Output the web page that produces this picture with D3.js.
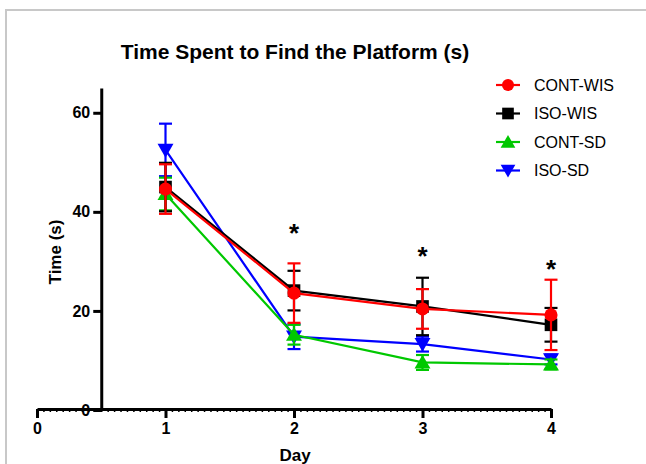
<!DOCTYPE html>
<html>
  <head>
    <script src="https://d3js.org/d3.v7.min.js"></script>
    <style>
      body { margin: 0; background: #fff; }
      svg text { font-family: "Liberation Sans", Arial, sans-serif; }
      .tick text { font-weight: bold; font-size: 16px; fill: #000; }
    </style>
  </head>
  <body>
    <div id="chart"></div>
    <script>
      // data
      const days = [1, 2, 3, 4];
      const series = ["CONT-WIS", "ISO-WIS", "CONT-SD", "ISO-SD"];
      const colors = ["#ff0000", "#000000", "#00c800", "#0000ff"];
      const contWis = [44.6, 23.6, 20.4, 19.2];
      const contWisErr = [5.0, 6.0, 4.0, 7.1];
      const isoWis = [45.0, 24.1, 20.9, 17.2];
      const isoWisErr = [4.9, 4.0, 5.8, 3.4];
      const contSd = [43.6, 15.2, 9.6, 9.2];
      const contSdErr = [3.3, 2.0, 1.5, 1.0];
      const isoSd = [52.5, 14.8, 13.3, 10.2];
      const isoSdErr = [5.3, 2.5, 1.5, 1.0];
      const starDays = [2, 3, 4];
      const starLevels = [37.0, 32.3, 29.6];
      const xTicks = [0, 1, 2, 3, 4];
      const yTicks = [0, 20, 40, 60];

      const W = 646, H = 464;
      const svg = d3.select("#chart").append("svg")
        .attr("width", W).attr("height", H);

      // frame of the original figure
      svg.append("path")
        .attr("d", `M6,${H} V10 H${W}`)
        .attr("fill", "none")
        .attr("stroke", "#c8c8c8")
        .attr("stroke-width", 2);

      const x = d3.scaleLinear().domain([0, 4]).range([37, 551]);
      const y = d3.scaleLinear().domain([0, 65]).range([410, 88]);

      // title
      svg.append("text")
        .attr("x", 295).attr("y", 59)
        .attr("text-anchor", "middle")
        .style("font-weight", "bold").style("font-size", "21px")
        .text("Time Spent to Find the Platform (s)");

      // x axis, minor ticks first
      svg.append("g")
        .attr("transform", "translate(0,409)")
        .call(d3.axisBottom(x).tickValues(d3.range(0, 4.001, 0.05)).tickSize(3).tickFormat(""))
        .call(g => g.select(".domain").remove())
        .call(g => g.selectAll("line").attr("stroke-width", 1.5));

      const xAxis = svg.append("g")
        .attr("transform", "translate(0,409)")
        .call(d3.axisBottom(x).tickValues(xTicks).tickFormat(d3.format("d"))
          .tickSize(9).tickSizeOuter(0).tickPadding(5));
      xAxis.select(".domain").attr("stroke-width", 3);
      xAxis.selectAll("line").attr("stroke-width", 3);

      // y axis sits at x = 0.5
      const yAxis = svg.append("g")
        .attr("transform", `translate(${x(0.5)},0)`)
        .call(d3.axisLeft(y).tickValues(yTicks).tickFormat(d3.format("d"))
          .tickSize(8).tickSizeOuter(0).tickPadding(3));
      yAxis.select(".domain").attr("stroke-width", 3);
      yAxis.selectAll("line").attr("stroke-width", 3);

      // axis titles
      svg.append("text")
        .attr("x", 295).attr("y", 461)
        .attr("text-anchor", "middle")
        .style("font-weight", "bold").style("font-size", "17px")
        .text("Day");

      svg.append("text")
        .attr("transform", "translate(61,252) rotate(-90)")
        .attr("text-anchor", "middle")
        .style("font-weight", "bold").style("font-size", "17px")
        .text("Time (s)");

      const values = [contWis, isoWis, contSd, isoSd];
      const errs = [contWisErr, isoWisErr, contSdErr, isoSdErr];
      const symbols = [
        { type: d3.symbolCircle, size: 135, rot: 0 },
        { type: d3.symbolSquare, size: 160, rot: 0 },
        { type: d3.symbolTriangle, size: 110, rot: 0 },
        { type: d3.symbolTriangle, size: 110, rot: 180 }
      ];

      const line = d3.line().x(d => x(d.day)).y(d => y(d.v));

      // draw last series first so red ends on top
      [3, 2, 1, 0].forEach(i => {
        const pts = days.map((d, j) => ({ day: d, v: values[i][j], e: errs[i][j] }));
        const g = svg.append("g");
        g.append("path")
          .datum(pts)
          .attr("d", line)
          .attr("fill", "none")
          .attr("stroke", colors[i])
          .attr("stroke-width", 2.2);

        const eb = g.selectAll(".eb").data(pts).enter().append("g");
        eb.append("line")
          .attr("x1", d => x(d.day)).attr("x2", d => x(d.day))
          .attr("y1", d => y(d.v - d.e)).attr("y2", d => y(d.v + d.e));
        eb.append("line")
          .attr("x1", d => x(d.day) - 6.5).attr("x2", d => x(d.day) + 6.5)
          .attr("y1", d => y(d.v + d.e)).attr("y2", d => y(d.v + d.e));
        eb.append("line")
          .attr("x1", d => x(d.day) - 6.5).attr("x2", d => x(d.day) + 6.5)
          .attr("y1", d => y(d.v - d.e)).attr("y2", d => y(d.v - d.e));
        eb.selectAll("line").attr("stroke", colors[i]).attr("stroke-width", 2.2);

        g.selectAll(".mk").data(pts).enter().append("path")
          .attr("d", d3.symbol().type(symbols[i].type).size(symbols[i].size))
          .attr("transform", d => `translate(${x(d.day)},${y(d.v) + (i >= 2 ? (symbols[i].rot ? -1.5 : 1.5) : 0)}) rotate(${symbols[i].rot})`)
          .attr("fill", colors[i]);
      });

      // significance marks
      svg.selectAll(".star").data(starDays).enter().append("text")
        .attr("x", d => x(d))
        .attr("y", (d, j) => y(starLevels[j]) + 15)
        .attr("text-anchor", "middle")
        .style("font-weight", "bold").style("font-size", "26px")
        .text("*");

      // legend
      const legend = svg.append("g");
      series.forEach((s, i) => {
        const ly = 85 + i * 28.5;
        legend.append("line")
          .attr("x1", 496).attr("x2", 520)
          .attr("y1", ly).attr("y2", ly)
          .attr("stroke", colors[i]).attr("stroke-width", 2.2);
        legend.append("path")
          .attr("d", d3.symbol().type(symbols[i].type).size(symbols[i].size * 0.85))
          .attr("transform", `translate(508,${ly + (i >= 2 ? (symbols[i].rot ? -1.5 : 1.5) : 0)}) rotate(${symbols[i].rot})`)
          .attr("fill", colors[i]);
        legend.append("text")
          .attr("x", 534).attr("y", ly)
          .attr("dy", "0.36em")
          .style("font-size", "16px")
          .text(s);
      });
    </script>
  </body>
</html>
